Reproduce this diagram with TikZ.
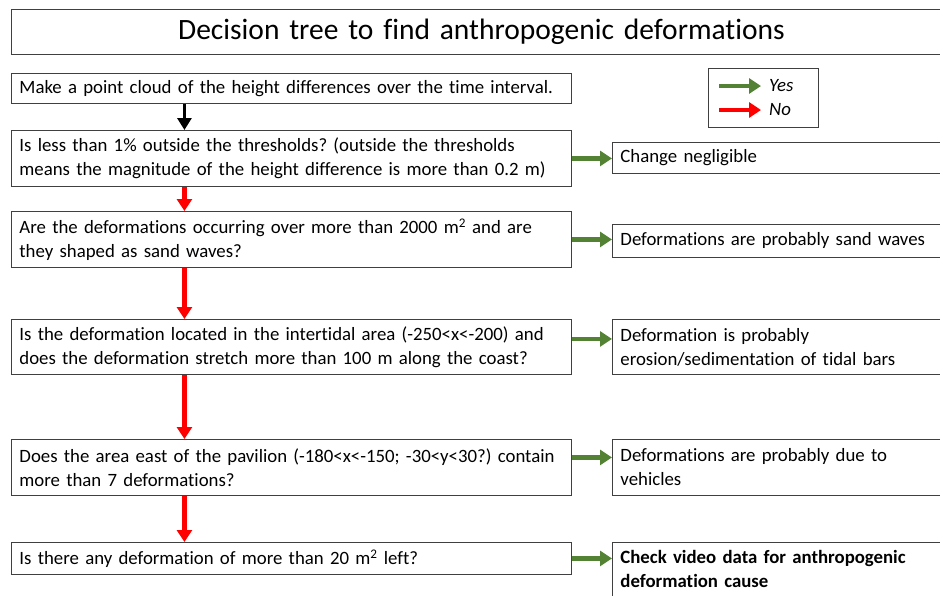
\documentclass[tikz,border=0pt]{standalone}
\usepackage{fontspec}
\setmainfont{Carlito}[Ligatures={NoCommon}]
\usetikzlibrary{arrows.meta,positioning}
\frenchspacing

\definecolor{yesgreen}{RGB}{84,130,53}
\definecolor{boxline}{RGB}{64,64,64}

\begin{document}
\begin{tikzpicture}[x=1pt, y=-1pt,
  every node/.style={font=\fontsize{18.8}{24}\selectfont},
  qbox/.style={draw=boxline, line width=0.9pt, anchor=north west, align=left,
    text width=544pt, minimum width=560pt, inner xsep=8pt, inner ysep=0pt},
  abox/.style={qbox, text width=324pt, minimum width=340pt},
  noarr/.style={-{Triangle[length=12pt, width=15pt]}, line width=4.5pt, red},
  yesarr/.style={-{Triangle[length=12pt, width=15pt]}, line width=4.5pt, yesgreen},
  firstarr/.style={-{Triangle[length=12pt, width=14pt]}, line width=3.5pt, black}
]
\useasboundingbox (0,0) rectangle (940,595);
\clip (0,0) rectangle (940,595);

% title
\node[qbox, minimum width=940pt, text width=924pt, minimum height=45pt, align=center,
  font=\fontsize{29.5}{34}\selectfont] (title) at (11,9)
  {Decision tree to find anthropogenic deformations};

% questions
\node[qbox, minimum height=30pt] (q1) at (11,73)
  {Make a point cloud of the height differences over the time interval.};
\node[qbox, minimum height=56pt] (q2) at (11,130)
  {Is less than 1\% outside the thresholds? (outside the thresholds\\
   means the magnitude of the height difference is more than 0.2 m)};
\node[qbox, minimum height=56pt] (q3) at (11,211)
  {Are the deformations occurring over more than 2000 m\textsuperscript{2} and are\\
   they shaped as sand waves?};
\node[qbox, minimum height=55pt] (q4) at (11,319)
  {Is the deformation located in the intertidal area (-250<x<-200) and\\
   does the deformation stretch more than 100 m along the coast?};
\node[qbox, minimum height=56pt] (q5) at (11,439)
  {Does the area east of the pavilion (-180<x<-150; -30<y<30?) contain\\
   more than 7 deformations?};
\node[qbox, minimum height=32pt] (q6) at (11,542)
  {Is there any deformation of more than 20 m\textsuperscript{2} left?};

% answers
\node[abox, minimum height=31pt] (a1) at (612,142) {Change negligible};
\node[abox, minimum height=33pt] (a2) at (612,224) {Deformations are probably sand waves};
\node[abox, minimum height=55pt] (a3) at (612,319)
  {Deformation is probably\\erosion/sedimentation of tidal bars};
\node[abox, minimum height=56pt] (a4) at (612,439)
  {Deformations are probably due to\\vehicles};
\node[abox, minimum height=54pt] (a5) at (612,542)
  {\textbf{Check video data for anthropogenic}\\\textbf{deformation cause}};

% legend
\node[draw=boxline, line width=0.9pt, anchor=north west, minimum width=110pt,
  minimum height=59pt] (legend) at (708,68) {};
\node[anchor=west, inner sep=0pt] (yes) at (769,86) {\itshape Yes};
\node[anchor=west, inner sep=0pt] (no) at (769,110) {\itshape No};
\coordinate (ys) at (719,86);
\coordinate (ns) at (719,110);
\draw[yesarr] (ys) -- ([xshift=-8pt]yes.west);
\draw[noarr] (ns) -- ([xshift=-8pt]no.west);

% no-branch
\draw[firstarr] ([xshift=-107pt]q1.south) -- ([xshift=-107pt]q2.north);
\draw[noarr] ([xshift=-107pt]q2.south) -- ([xshift=-107pt]q3.north);
\draw[noarr] ([xshift=-107pt]q3.south) -- ([xshift=-107pt]q4.north);
\draw[noarr] ([xshift=-107pt]q4.south) -- ([xshift=-107pt]q5.north);
\draw[noarr] ([xshift=-107pt]q5.south) -- ([xshift=-107pt]q6.north);

% yes-branch
\draw[yesarr] (q2.east) -- (q2.east -| a1.west);
\draw[yesarr] (q3.east) -- (q3.east -| a2.west);
\draw[yesarr] ([yshift=8pt]q4.east) -- ([yshift=8pt]q4.east -| a3.west);
\draw[yesarr] ([yshift=10pt]q5.east) -- ([yshift=10pt]q5.east -| a4.west);
\draw[yesarr] (q6.east) -- (q6.east -| a5.west);
\end{tikzpicture}
\end{document}
